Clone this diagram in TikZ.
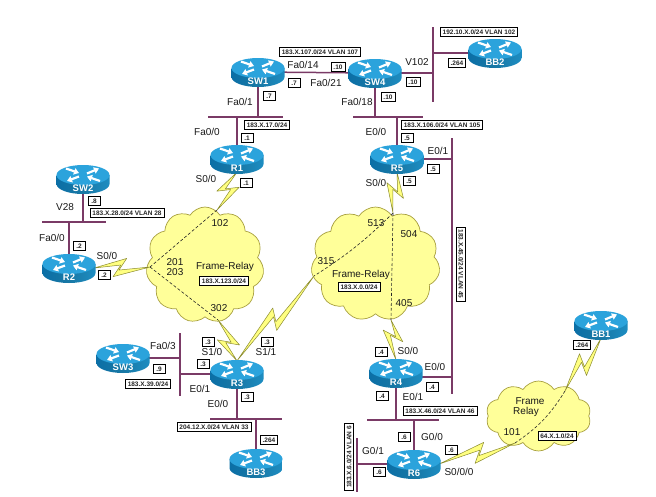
\documentclass[tikz,border=0pt]{standalone}
\usepackage{fontspec}
\setmainfont{Liberation Sans}
\usetikzlibrary{calc,shapes.symbols,backgrounds,arrows.meta}
\definecolor{lanc}{HTML}{7A3A66}
\definecolor{cloudf}{HTML}{FFFF99}
\definecolor{cloudd}{HTML}{A8A040}
\definecolor{boltf}{HTML}{FFFF80}
\definecolor{boltd}{HTML}{8A8A30}
\definecolor{rtop}{HTML}{2BA3DC}
\definecolor{rsidea}{HTML}{0B6FA6}
\definecolor{rsideb}{HTML}{1D8DC2}
\tikzset{
  x=1pt,y=-1pt,
  lan/.style={draw=lanc,line width=1.5pt},
  cloudbox/.style={shape=cloud,draw=cloudd,fill=cloudf,line width=.7pt,cloud puffs=11,cloud puff arc=115,aspect=1,inner sep=0pt},
  pvc/.style={draw=black!85,dashed,dash pattern=on 3pt off 2pt,line width=.6pt},
  boltp/.style={draw=boltd,fill=boltf,line width=.5pt,line join=round},
  lab/.style={font=\fontsize{10}{11}\selectfont,inner sep=0pt,text=black!90},
  tag/.style={draw=black,fill=white,line width=.7pt,font=\bfseries\fontsize{6.5}{7}\selectfont,inner xsep=2.5pt,inner ysep=0pt,minimum height=9.5pt,minimum width=12pt,text=black!85},
  rbox/.style={inner sep=0pt,minimum width=50pt,minimum height=26pt},
  rname/.style={text=white,font=\bfseries\fontsize{9.5}{10}\selectfont,inner sep=0pt},
  rarrow/.style={draw=white,line width=2.2pt,-{Triangle[width=6.5pt,length=5pt]}},
}
\newcommand{\netdevice}[4]{%
  \begin{scope}[shift={(#2,#3)}]
    \path[left color=rsidea,right color=rsideb,middle color=rsideb!85!black] (-26.5,-4) -- (-26.5,5) arc[start angle=180,end angle=0,x radius=26.5,y radius=10] -- (26.5,-4) -- cycle;
    \path[fill=rtop] (0,-4) ellipse[x radius=26.5,y radius=10];
    \draw[rarrow] (-17,-10.5) -- (-4,-6);
    \draw[rarrow] (4,-5.5) -- (16,-10.5);
    \draw[rarrow] (17,2) -- (4,-2.5);
    \draw[rarrow] (-4,-2.5) -- (-16,2);
    \node[rbox] (#1) at (0,0) {};
    \node[rname] (#1name) at (0,9) {#4};
  \end{scope}}
% from, to, fraction of the bend along the way, side
\newcommand{\boltlink}[4]{%
  \coordinate (bm) at ($(#1)!#3!(#2)$);
  \path[boltp] (#1)
    -- ($(bm)!7pt!(#2)!#4*9pt!90:(#2)$)
    -- ($(bm)!-1pt!(#2)!#4*-2.5pt!90:(#2)$)
    -- (#2)
    -- ($(bm)!-7pt!(#2)!#4*-9pt!90:(#2)$)
    -- ($(bm)!1pt!(#2)!#4*2.5pt!90:(#2)$)
    -- cycle;}
\begin{document}
\begin{tikzpicture}
\useasboundingbox (0,0) rectangle (656,496);

\netdevice{SW1}{258}{72}{SW1}
\netdevice{SW4}{375}{73}{SW4}
\netdevice{BB2}{495}{53}{BB2}
\netdevice{R1}{237}{159}{R1}
\netdevice{R5}{397}{159}{R5}
\netdevice{SW2}{83}{179}{SW2}
\netdevice{R2}{69}{268}{R2}
\netdevice{R3}{237}{374}{R3}
\netdevice{SW3}{123}{358}{SW3}
\netdevice{BB3}{256}{463}{BB3}
\netdevice{R4}{396}{373}{R4}
\netdevice{R6}{414}{464}{R6}
\netdevice{BB1}{601}{325}{BB1}

\coordinate (v102a) at (433,27);  \coordinate (v102b) at (433,102);
\coordinate (n17a) at (208,117);  \coordinate (n17b) at (283,117);
\coordinate (n106a) at (353,117); \coordinate (n106b) at (423,117);
\coordinate (n45a) at (452,138);  \coordinate (n45b) at (452,394);
\coordinate (n28a) at (42,222);   \coordinate (n28b) at (106,222);
\coordinate (n39a) at (180,333);  \coordinate (n39b) at (180,396);
\coordinate (n33a) at (210,419);  \coordinate (n33b) at (282,419);
\coordinate (n46a) at (367,420);  \coordinate (n46b) at (439,420);
\coordinate (n6a) at (357,438);   \coordinate (n6b) at (357,492);
\coordinate (r4e) at (420,377);
\coordinate (fr1a) at (150,267);
\coordinate (fr1b) at (217,210);
\coordinate (fr1c) at (218,320);
\coordinate (fr2a) at (393,213);
\coordinate (fr2b) at (314,276);
\coordinate (fr2c) at (391,320);
\coordinate (fr3a) at (565,391);
\coordinate (fr3b) at (515,443);

\begin{scope}[on background layer]
  \path[fill=white] (0,0) rectangle (656,496);
  \node[cloudbox,minimum width=118pt,minimum height=116pt] (cld1) at (205,265) {};
  \node[cloudbox,minimum width=129pt,minimum height=114pt] (cld2) at (375.5,264) {};
  \node[cloudbox,minimum width=105pt,minimum height=70pt,cloud puffs=10] (cld3) at (538.5,416) {};

  \draw[lan] (v102a) -- (v102b);
  \draw[lan] (n17a) -- (n17b);
  \draw[lan] (n106a) -- (n106b);
  \draw[lan] (n45a) -- (n45b);
  \draw[lan] (n28a) -- (n28b);
  \draw[lan] (n39a) -- (n39b);
  \draw[lan] (n33a) -- (n33b);
  \draw[lan] (n46a) -- (n46b);
  \draw[lan] (n6a) -- (n6b);
  \draw[lan] (SW1) -- (SW4);
  \draw[lan] (SW4) -- (SW4 -| v102a);
  \draw[lan] (BB2) -- (BB2 -| v102a);
  \draw[lan] (SW1) -- (SW1 |- n17a);
  \draw[lan] (R1) -- (R1 |- n17a);
  \draw[lan] (SW4) -- (SW4 |- n106a);
  \draw[lan] (R5) -- (R5 |- n106a);
  \draw[lan] (R5) -- (R5 -| n45a);
  \draw[lan] (r4e) -- (r4e -| n45a);
  \draw[lan] (SW2) -- (SW2 |- n28a);
  \draw[lan] (R2) -- (R2 |- n28a);
  \draw[lan] (SW3) -- (SW3 -| n39a);
  \draw[lan] (R3) -- (R3 -| n39a);
  \draw[lan] (R3) -- (R3 |- n33a);
  \draw[lan] (BB3) -- (BB3 |- n33a);
  \draw[lan] (R4) -- (R4 |- n46a);
  \draw[lan] (R6) -- (R6 |- n46a);
  \draw[lan] (R6) -- (R6 -| n6a);

  \draw[pvc] (fr1a) -- (fr1b);
  \draw[pvc] (fr1a) -- (fr1c);
  \draw[pvc] (fr2a) -- (fr2c);
  \draw[pvc] (fr2a) to[bend left=6] (fr2b);
  \draw[pvc] (fr3a) to[bend left=12] (fr3b);

  \boltlink{R1.south}{fr1b}{.45}{-1}
  \boltlink{R2.east}{fr1a}{.46}{1}
  \boltlink{fr1c}{R3.north}{.55}{1}
  \boltlink{R3.north}{fr2b}{.49}{1}
  \boltlink{R5.south}{fr2a}{.45}{1}
  \boltlink{fr2c}{R4.north}{.4}{1}
  \boltlink{R6.east}{fr3b}{.53}{1}
  \boltlink{BB1.south}{fr3a}{.5}{1}
\end{scope}

% interface names
\node[lab] (t01) at (303,65) {Fa0/14};
\node[lab] (t02) at (326,83) {Fa0/21};
\node[lab] (t03) at (417,62) {V102};
\node[lab] (t04) at (240,102) {Fa0/1};
\node[lab] (t05) at (357,102) {Fa0/18};
\node[lab] (t06) at (376,132) {E0/0};
\node[lab] (t07) at (207,132) {Fa0/0};
\node[lab] (t08) at (438,151) {E0/1};
\node[lab] (t09) at (376,183) {S0/0};
\node[lab] (t10) at (206,179) {S0/0};
\node[lab] (t11) at (65,207) {V28};
\node[lab] (t12) at (52,238) {Fa0/0};
\node[lab] (t13) at (107,256) {S0/0};
\node[lab] (t14) at (163,346) {Fa0/3};
\node[lab] (t15) at (212,352) {S1/0};
\node[lab] (t16) at (266,352) {S1/1};
\node[lab] (t17) at (200,389) {E0/1};
\node[lab] (t18) at (218,404) {E0/0};
\node[lab] (t19) at (408,351) {S0/0};
\node[lab] (t20) at (435,367) {E0/0};
\node[lab] (t21) at (413,397) {E0/1};
\node[lab] (t22) at (432,437) {G0/0};
\node[lab] (t23) at (373,451) {G0/1};
\node[lab] (t24) at (459,472) {S0/0/0};
% frame-relay clouds
\node[lab] (t25) at (220,223) {102};
\node[lab] (t26) at (175,262) {201};
\node[lab] (t27) at (175,272) {203};
\node[lab] (t28) at (225,267) {Frame-Relay};
\node[lab] (t29) at (219,308) {302};
\node[lab] (t30) at (376,223) {513};
\node[lab] (t31) at (409,234) {504};
\node[lab] (t32) at (326,261) {315};
\node[lab] (t33) at (361,275) {Frame-Relay};
\node[lab] (t34) at (404,303) {405};
\node[lab] (t35) at (530,401) {Frame};
\node[lab] (t36) at (526,412) {Relay};
\node[lab] (t37) at (512,432) {101};
% subnet and address tags
\node[tag] (a01) at (320,52) {183.X.107.0/24 VLAN 107};
\node[tag] (a02) at (479,32) {192.10.X.0/24 VLAN 102};
\node[tag] (a03) at (457,63) {.264};
\node[tag] (a04) at (338,67) {.10};
\node[tag] (a05) at (294,83) {.7};
\node[tag] (a06) at (413,82) {.10};
\node[tag] (a07) at (269,96) {.7};
\node[tag] (a08) at (388,97) {.10};
\node[tag] (a09) at (267,125) {183.X.17.0/24};
\node[tag] (a10) at (247,138) {.1};
\node[tag] (a11) at (442,125) {183.X.106.0/24 VLAN 105};
\node[tag] (a12) at (407,138) {.5};
\node[tag] (a13) at (433,169) {.5};
\node[tag] (a14) at (409,181) {.5};
\node[tag] (a15) at (246,183) {.1};
\node[tag] (a16) at (94,201) {.8};
\node[tag] (a17) at (127,213) {183.X.28.0/24 VLAN 28};
\node[tag] (a18) at (79,246) {.2};
\node[tag] (a19) at (104,275) {.2};
\node[tag] (a20) at (224,281) {183.X.123.0/24};
\node[tag] (a21) at (159,369) {.9};
\node[tag] (a22) at (148,384) {183.X.39.0/24};
\node[tag] (a23) at (203,364) {.3};
\node[tag] (a24) at (208,342) {.3};
\node[tag] (a25) at (267,342) {.3};
\node[tag] (a26) at (247,397) {.3};
\node[tag] (a27) at (214,427) {204.12.X.0/24 VLAN 33};
\node[tag] (a28) at (269,440) {.264};
\node[tag] (a29) at (359,287) {183.X.0.0/24};
\node[tag,rotate=-90] (a30) at (461,264) {183.X.45.0/24 VLAN 45};
\node[tag] (a31) at (381,352) {.4};
\node[tag] (a32) at (432,387) {.4};
\node[tag] (a33) at (382,396) {.4};
\node[tag] (a34) at (440,411) {183.X.46.0/24 VLAN 46};
\node[tag] (a35) at (404,437) {.6};
\node[tag] (a36) at (451,450) {.6};
\node[tag] (a37) at (379,472) {.6};
\node[tag,rotate=90] (a38) at (349,457) {183.X.6.0/24 VLAN 6};
\node[tag] (a39) at (557,436) {64.X.1.0/24};
\node[tag] (a40) at (582,345) {.264};
\end{tikzpicture}
\end{document}
